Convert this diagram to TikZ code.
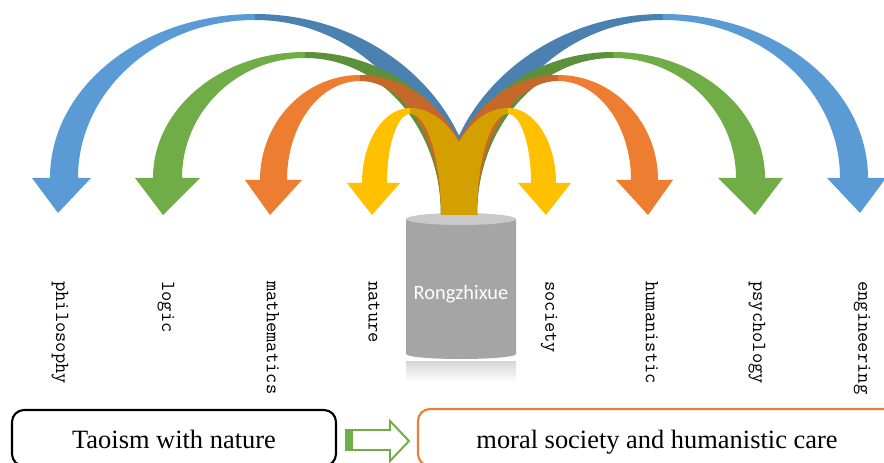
\documentclass[tikz,border=0pt]{standalone}
\usepackage{fontspec}
\setmainfont{Liberation Serif}
\newfontfamily\corefont{Carlito}
\usetikzlibrary{calc, positioning}

\definecolor{arcBlue}{HTML}{5B9BD5}
\definecolor{arcGreen}{HTML}{70AD47}
\definecolor{arcOrange}{HTML}{ED7D31}
\definecolor{arcYellow}{HTML}{FFC000}
\definecolor{coreBody}{HTML}{A5A5A5}
\definecolor{coreTop}{HTML}{C9C9C9}

\begin{document}
\begin{tikzpicture}[x=0.25mm, y=-0.25mm,
        lbl/.style={rotate=-90, anchor=west, inner sep=0pt, font=\ttfamily\fontsize{14.2}{16}\selectfont},
        boxtext/.style={anchor=base, inner sep=0pt, font=\fontsize{18.8}{22}\selectfont},
        taoBox/.style={draw=black, line width=1.5pt, rounded corners=3mm},
        moralBox/.style={draw=arcOrange, line width=1.5pt, rounded corners=3mm}]
    \def\stemL{441}
    \def\stemR{477}
    \def\stemY{215}
    \def\band{6}
    \def\mirrorX{918}

    \useasboundingbox (0,0) rectangle (884,463);
    \clip (0,0) rectangle (884,463);

    % Draw cylinder and its reflection
    \shade[top color=black!16, bottom color=white] (406,361) rectangle (516,382);
    \fill[coreBody] (406,219) -- (406,354)
        arc[start angle=180, end angle=0, x radius=55, y radius=5]
        -- (516,219) -- cycle;
    \fill[coreTop] (461,219) ellipse[x radius=55, y radius=6];
    \node[text=white, font=\corefont\fontsize{14.5}{17}\selectfont] (core) at (461,294) {Rongzhixue};

    % Draw bent arrows, left ones and their mirror images
    \foreach \col/\outX/\inX/\baseY/\headL/\headR/\tipX/\tipY/\topX/\topY in {
        arcBlue/50/78/178/32/91/58/213/255/14,
        arcGreen/153/182/178/135/200/163/215/305/52,
        arcOrange/260/287/180/245/302/270/215/360/75,
        arcYellow/362/387/183/347/400/372/215/410/108} {
        \foreach \side/\shiftX in {1/0, -1/\mirrorX} {
            \begin{scope}[shift={(\shiftX,0)}, xscale=\side]
                % head side
                \fill[\col] (\headL,\baseY) -- (\outX,\baseY)
                    arc[start angle=180, end angle=270, x radius={\topX-\outX}, y radius={\baseY-\topY}]
                    -- (\topX,{\topY+\band})
                    arc[start angle=270, end angle=180, x radius={\topX-\inX}, y radius={\baseY-\topY-\band}]
                    -- (\headR,\baseY) -- (\tipX,\tipY) -- cycle;
                % tail side
                \fill[\col!83!black] (\topX,\topY)
                    arc[start angle=270, end angle=360, x radius={\stemR-\topX}, y radius={\stemY-\topY}]
                    -- (\stemL,\stemY)
                    arc[start angle=360, end angle=270, x radius={\stemL-\topX}, y radius={\stemY-\topY-\band}]
                    -- cycle;
            \end{scope}
        }
    }

    % Label the arrows
    \foreach \name/\lx in {philosophy/60, logic/166, mathematics/273, nature/374,
                          society/549, humanistic/652, psychology/757, engineering/862} {
        \node[lbl] (\name) at (\lx,281) {\name};
    }

    % Draw bottom boxes
    \draw[taoBox] (12,410) rectangle (336,466);
    \draw[moralBox] (418,409) rectangle (920,466);
    \node[boxtext] (taoism) at (174,448) {Taoism with nature};
    \node[boxtext] (moral) at (657,448) {moral society and humanistic care};

    % Hollow arrow between the boxes
    \draw[arcGreen, fill=white, line width=1.4pt] (346,430) -- (390,430) -- (390,421)
        -- (409,441) -- (390,461) -- (390,450) -- (346,450) -- cycle;
    \fill[arcGreen] (346,430) rectangle (353,450);
\end{tikzpicture}
\end{document}
